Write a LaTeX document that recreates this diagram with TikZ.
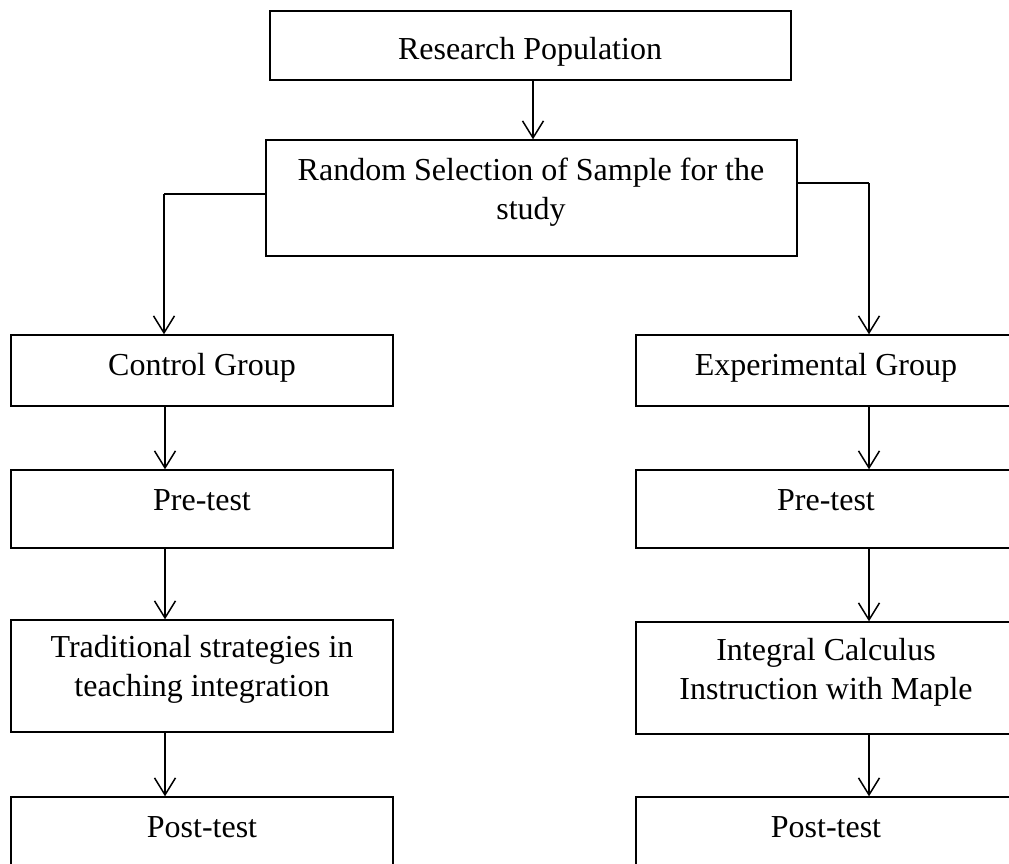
\documentclass[tikz,border=0pt]{standalone}
\usepackage{fontspec}
\setmainfont{Liberation Serif}
\usetikzlibrary{arrows.meta}
\begin{document}
\begin{tikzpicture}[x=1pt,y=-1pt,
  box/.style={draw, line width=1.4pt, rectangle, inner sep=0pt},
  txt/.style={font=\fontsize{32pt}{39pt}\selectfont, align=center, inner sep=0pt},
  arr/.style={line width=1.5pt, -{Straight Barb[length=17pt,width=21pt,line width=1.5pt]}},
  lin/.style={line width=1.5pt}]
\useasboundingbox (0,0) rectangle (1009,864);
\clip (0,0) rectangle (1009,864);
% boxes
\node[box, minimum width=521pt, minimum height=69pt] (res) at (530.5,45.5) {};
\node[box, minimum width=531pt, minimum height=116pt] (rand) at (531.5,198) {};
\node[box, minimum width=382pt, minimum height=71pt] (ctrl) at (202,370.5) {};
\node[box, minimum width=382pt, minimum height=78pt] (pre1) at (202,509) {};
\node[box, minimum width=382pt, minimum height=112pt] (trad) at (202,676) {};
\node[box, minimum width=382pt, minimum height=78pt] (post1) at (202,836) {};
\node[box, minimum width=380pt, minimum height=71pt] (exp) at (826,370.5) {};
\node[box, minimum width=380pt, minimum height=78pt] (pre2) at (826,509) {};
\node[box, minimum width=380pt, minimum height=112pt] (integ) at (826,678) {};
\node[box, minimum width=380pt, minimum height=78pt] (post2) at (826,836) {};
% texts
\node[txt, anchor=base] (res-t) at (530,60) {Research Population};
\node[txt] (rand-t) at (531,192) {Random Selection of Sample for the\\study};
\node[txt, anchor=base] (ctrl-t) at (202,375) {Control Group};
\node[txt, anchor=base] (pre1-t) at (202,510) {Pre-test};
\node[txt] (trad-t) at (202,669.5) {Traditional strategies in\\teaching integration};
\node[txt, anchor=base] (post1-t) at (202,837) {Post-test};
\node[txt, anchor=base] (exp-t) at (826,375) {Experimental Group};
\node[txt, anchor=base] (pre2-t) at (826,510) {Pre-test};
\node[txt] (integ-t) at (826,672.5) {Integral Calculus\\Instruction with Maple};
\node[txt, anchor=base] (post2-t) at (826,837) {Post-test};
% connector columns
\coordinate (colM) at (533,0);
\coordinate (colL) at (165,0);
\coordinate (colR) at (869,0);
\coordinate (jL) at (164,194);
\coordinate (jR) at (869,183);
% connectors
\draw[arr] (res.south -| colM) -- (rand.north -| colM);
\draw[lin] (rand.west |- jL) -- (jL);
\draw[arr] (jL) -- (ctrl.north -| jL);
\draw[lin] (rand.east |- jR) -- (jR);
\draw[arr] (jR) -- (exp.north -| jR);
\draw[arr] (ctrl.south -| colL) -- (pre1.north -| colL);
\draw[arr] (pre1.south -| colL) -- (trad.north -| colL);
\draw[arr] (trad.south -| colL) -- (post1.north -| colL);
\draw[arr] (exp.south -| colR) -- (pre2.north -| colR);
\draw[arr] (pre2.south -| colR) -- (integ.north -| colR);
\draw[arr] (integ.south -| colR) -- (post2.north -| colR);
\end{tikzpicture}
\end{document}
